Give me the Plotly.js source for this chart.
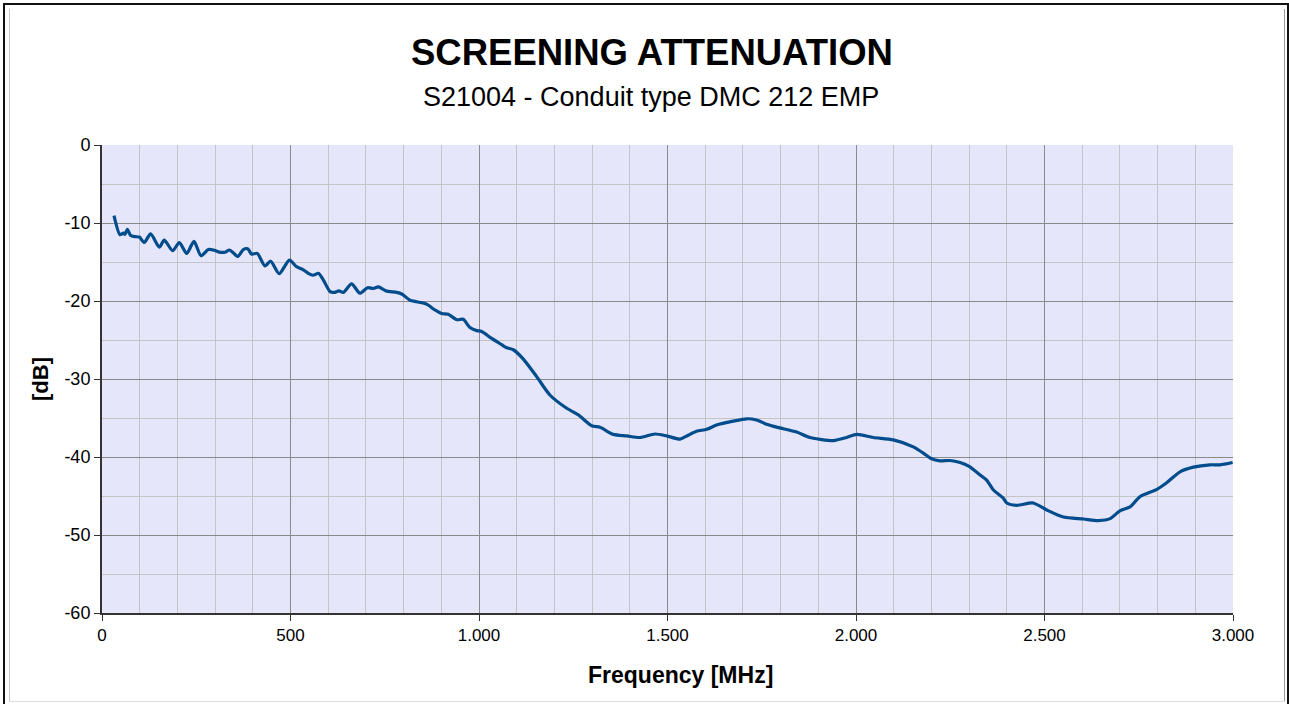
<!DOCTYPE html>
<html>
<head>
<meta charset="utf-8">
<script src="https://cdn.plot.ly/plotly-3.0.1.min.js"></script>
<style>
  html, body { margin: 0; padding: 0; background: #fff; }
  #wrap { position: relative; width: 1289px; height: 704px; overflow: hidden; }
  #chart { position: absolute; left: 0; top: 0; width: 1289px; height: 704px; }
  .ln { position: absolute; pointer-events: none; }
</style>
</head>
<body>
<div id="wrap">
  <div id="chart"></div>
  <div class="ln" style="left:3px;top:3px;width:1286px;height:2px;background:#111;"></div>
  <div class="ln" style="left:3px;top:3px;width:2px;height:701px;background:#111;"></div>
  <div class="ln" style="left:1287px;top:3px;width:2px;height:701px;background:#111;"></div>
  <div class="ln" style="left:9px;top:9px;width:1px;height:693px;background:#c8c8c8;"></div>
  <div class="ln" style="left:1284px;top:9px;width:1px;height:693px;background:#999;"></div>
  <div class="ln" style="left:9px;top:701px;width:1276px;height:1px;background:#ddd;"></div>
</div>
<script>
// Frequency in MHz
const freq = [31.8, 47.7, 56.6, 61, 67.2, 76, 87.5, 99, 112, 129, 152, 165, 187.5, 205, 224.7, 244, 262.6, 282, 298, 308.6,
  326, 337.8, 346.6, 360, 374.8, 386.4, 397, 412, 432, 447.5, 470, 497, 516, 534, 547, 560, 574, 587, 605, 616,
  628.6, 640, 662, 684, 704.7, 719.7, 733, 753, 781.7, 795, 817, 834.7, 861, 883, 901, 918.6, 940.8, 958, 976, 993.8,
  1007, 1033.6, 1060, 1073.5, 1091, 1117.6, 1153, 1188, 1232.6, 1263.5, 1299, 1321, 1356, 1391.8, 1427, 1467, 1498, 1533, 1551, 1577,
  1604, 1630, 1674, 1710, 1736, 1763, 1792, 1842.6, 1878, 1940, 1975, 2002, 2046, 2099, 2152, 2178.5, 2199, 2223, 2249, 2276,
  2300, 2329, 2347, 2364, 2391, 2400, 2426, 2470, 2506, 2550, 2603, 2643, 2674, 2700, 2727, 2753, 2798, 2824, 2859.4, 2895,
  2939, 2965.5, 2999];
// Screening attenuation in dB
const atten = [-9.06, -11.5, -11.3, -11.45, -10.8, -11.6, -11.75, -11.8, -12.5, -11.4, -13.1, -12.2, -13.55, -12.5, -13.9, -12.35, -14.2, -13.4, -13.5, -13.7,
  -13.75, -13.46, -13.75, -14.3, -13.4, -13.3, -14.0, -13.9, -15.5, -14.9, -16.5, -14.75, -15.6, -16.0, -16.45, -16.7, -16.45, -17.3, -18.8, -18.9,
  -18.7, -18.9, -17.8, -19.0, -18.3, -18.4, -18.2, -18.7, -18.9, -19.1, -19.9, -20.1, -20.4, -21.15, -21.6, -21.7, -22.4, -22.35, -23.4, -23.8,
  -23.9, -24.8, -25.6, -26.0, -26.25, -27.45, -29.7, -32.05, -33.75, -34.6, -36.0, -36.2, -37.1, -37.3, -37.5, -37.05, -37.3, -37.7, -37.3, -36.7,
  -36.45, -35.9, -35.4, -35.1, -35.25, -35.8, -36.2, -36.8, -37.5, -37.9, -37.5, -37.1, -37.5, -37.8, -38.7, -39.5, -40.2, -40.5, -40.45, -40.7,
  -41.2, -42.3, -43.0, -44.2, -45.3, -45.9, -46.2, -45.9, -46.8, -47.7, -47.95, -48.15, -47.9, -46.9, -46.4, -45.1, -44.15, -43.3, -41.9, -41.3,
  -41.0, -41.0, -40.7];

const xTickVals = [0, 500, 1000, 1500, 2000, 2500, 3000];
const xTickText = ["0", "500", "1.000", "1.500", "2.000", "2.500", "3.000"];
const yTickVals = [0, -10, -20, -30, -40, -50, -60];
const yTickText = ["0", "-10", "-20", "-30", "-40", "-50", "-60"];

const FONT = "'Liberation Sans', Arial, sans-serif";

const trace = {
  x: freq, y: atten, type: 'scatter', mode: 'lines',
  line: { color: '#004C8C', width: 3.2, shape: 'spline', smoothing: 0.7 },
  hoverinfo: 'skip'
};

const layout = {
  width: 1289, height: 704,
  margin: { l: 102, r: 56, t: 145, b: 91 },
  paper_bgcolor: 'rgba(0,0,0,0)',
  plot_bgcolor: '#E6E6FA',
  showlegend: false,
  font: { family: FONT, color: '#000', size: 17 },
  xaxis: {
    range: [0, 3000],
    tickvals: xTickVals, ticktext: xTickText,
    ticks: 'outside', ticklen: 6, tickwidth: 1, tickcolor: '#333',
    showgrid: true, gridcolor: '#8a8a8a', gridwidth: 1,
    minor: { dtick: 100, showgrid: true, gridcolor: '#c4c4c4', gridwidth: 1, ticks: '' },
    showline: true, linecolor: '#333', linewidth: 2,
    zeroline: false,
    tickfont: { size: 17 }
  },
  yaxis: {
    range: [-60, 0],
    tickvals: yTickVals, ticktext: yTickText,
    ticks: 'outside', ticklen: 6, tickwidth: 1, tickcolor: '#333',
    showgrid: true, gridcolor: '#8a8a8a', gridwidth: 1,
    minor: { dtick: 5, showgrid: true, gridcolor: '#c4c4c4', gridwidth: 1, ticks: '' },
    showline: true, linecolor: '#333', linewidth: 2,
    zeroline: false,
    tickfont: { size: 18 },
    title: { text: '<b>[dB]</b>', font: { size: 22 }, standoff: 10 }
  },
  annotations: [
    { text: '<b>SCREENING ATTENUATION</b>', xref: 'paper', yref: 'paper', x: 0.5, y: 1, yshift: 93, xshift: -16,
      showarrow: false, xanchor: 'center', yanchor: 'middle', font: { size: 36.5, family: FONT } },
    { text: 'S21004 - Conduit type DMC 212 EMP', xref: 'paper', yref: 'paper', x: 0.5, y: 1, yshift: 48, xshift: -17,
      showarrow: false, xanchor: 'center', yanchor: 'middle', font: { size: 27, family: FONT } },
    { text: '<b>Frequency [MHz]</b>', xref: 'paper', yref: 'paper', x: 0.5, y: 0, yshift: -62, xshift: 13,
      showarrow: false, xanchor: 'center', yanchor: 'middle', font: { size: 23, family: FONT } }
  ]
};

Plotly.newPlot('chart', [trace], layout, { displayModeBar: false, staticPlot: true });
</script>
</body>
</html>
